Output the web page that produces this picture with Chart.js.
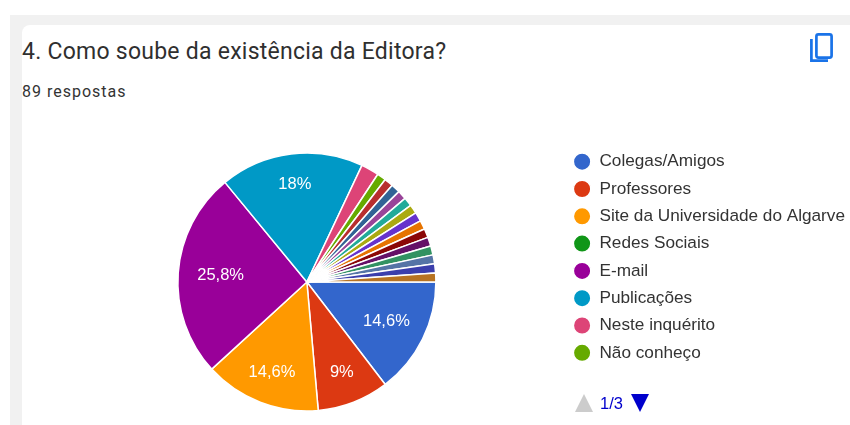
<!DOCTYPE html>
<html>
<head>
<meta charset="utf-8">
<script src="https://cdn.jsdelivr.net/npm/chart.js@4/dist/chart.umd.min.js"></script>
<style>
    html, body { margin: 0; padding: 0; background: #fff; width: 850px; height: 425px; overflow: hidden; }
    #band { position: absolute; left: 10px; top: 15px; width: 840px; height: 410px; background: #f1f1f1; }
    #card { position: absolute; left: 22px; top: 25px; width: 828px; height: 400px; background: #fff; border-top-left-radius: 8px; }
    #title { position: absolute; left: 22px; top: 38px; font: 23px Roboto, sans-serif; letter-spacing: 0.25px; color: #2f2f2f; white-space: nowrap; }
    #subtitle { position: absolute; left: 22px; top: 82px; font: 16px Roboto, sans-serif; letter-spacing: 1px; color: #333; white-space: nowrap; }
    #copy { position: absolute; left: 806px; top: 32px; }
    #pager { position: absolute; left: 575px; top: 393px; }
    #page { position: absolute; left: 600px; top: 394px; font: 16.5px "Liberation Sans", sans-serif; color: #0000cc; }
    #chart { position: absolute; left: 0; top: 0; }
</style>
</head>
<body>
<div id="band"></div>
<div id="card"></div>
<div id="title">4. Como soube da existência da Editora?</div>
<div id="subtitle">89 respostas</div>
<svg id="copy" width="30" height="34" viewBox="0 0 30 34">
    <rect x="10.4" y="2.4" width="15.2" height="23.2" rx="2" fill="none" stroke="#1a73e8" stroke-width="2.7"/>
    <path d="M5.4 7 V28.6 H22" fill="none" stroke="#1a73e8" stroke-width="2.7"/>
</svg>
<canvas id="chart" width="855" height="425"></canvas>
<svg id="pager" width="80" height="20">
    <path d="M0 19 L9 1 L18 19 Z" fill="#cccccc"/>
    <path d="M56 1 L74 1 L65 19 Z" fill="#0000cc"/>
</svg>
<div id="page">1/3</div>

<script>
// Only the first page of the legend is visible in the picture
const categories = ['Colegas/Amigos', 'Professores', 'Site da Universidade do Algarve', 'Redes Sociais',
    'E-mail', 'Publicações', 'Neste inquérito', 'Não conheço'];
// Answer counts out of 89 responses
const counts = [13, 8, 13, 0, 23, 16, 2, 1, 1, 1, 1, 1, 1, 1, 1, 1, 1, 1, 1, 1, 1];
const colors = ['#3366cc', '#dc3912', '#ff9900', '#109618', '#990099', '#0099c6', '#dd4477', '#66aa00',
    '#b82e2e', '#316395', '#994499', '#22aa99', '#aaaa11', '#6633cc', '#e67300', '#8b0707',
    '#651067', '#329262', '#5574a6', '#3b3eac', '#b77322'];
const totalAnswers = 89;

// Percent labels inside the big slices
const sliceLabels = {
    id: 'sliceLabels',
    afterDatasetsDraw(chart) {
        const ctx = chart.ctx;
        ctx.save();
        ctx.font = '16.5px "Liberation Sans", sans-serif';
        ctx.fillStyle = '#ffffff';
        ctx.textAlign = 'center';
        ctx.textBaseline = 'middle';
        chart.getDatasetMeta(0).data.forEach((arc, i) => {
            const pct = counts[i] / totalAnswers * 100;
            if (pct < 5) return;
            const p = arc.getProps(['x', 'y', 'startAngle', 'endAngle', 'outerRadius']);
            const mid = (p.startAngle + p.endAngle) / 2;
            // labels sit a bit further out towards the top and bottom of the pie
            const r = p.outerRadius * (0.67 + 0.09 * Math.sin(mid) ** 2);
            const text = String(parseFloat(pct.toFixed(1))).replace('.', ',') + '%';
            ctx.fillText(text, p.x + Math.cos(mid) * r, p.y + Math.sin(mid) * r);
        });
        ctx.restore();
    }
};

new Chart(document.getElementById('chart'), {
    type: 'pie',
    data: {
        labels: categories,
        datasets: [{
            data: counts,
            backgroundColor: colors,
            borderColor: '#ffffff',
            borderWidth: 1.5,
            radius: 129
        }]
    },
    options: {
        responsive: false,
        animation: false,
        rotation: 90,
        layout: { padding: { left: 50.5, top: 143, bottom: 4, right: 0 } },
        plugins: {
            tooltip: { enabled: false },
            legend: {
                position: 'right',
                align: 'start',
                onClick: null,
                labels: {
                    usePointStyle: true,
                    pointStyle: 'circle',
                    boxHeight: 12.4,
                    pointStyleWidth: 17.5,
                    padding: 10.1,
                    color: '#333333',
                    font: { family: '"Liberation Sans", sans-serif', size: 17.2 }
                }
            }
        }
    },
    plugins: [sliceLabels]
});
</script>
</body>
</html>
